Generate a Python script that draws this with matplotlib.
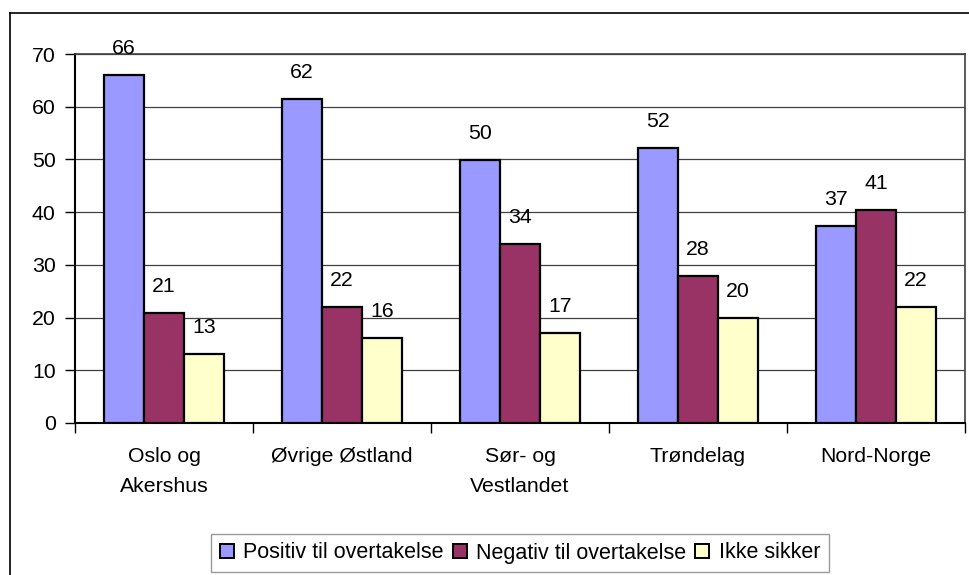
import matplotlib
matplotlib.use("Agg")
import matplotlib.pyplot as plt
from matplotlib.lines import Line2D
import numpy as np

plt.rcParams['font.family'] = ['Liberation Sans', 'DejaVu Sans']

categories = ["Oslo og\nAkershus", "Øvrige Østland", "Sør- og\nVestlandet", "Trøndelag", "Nord-Norge"]
series_names = ["Positiv til overtakelse", "Negativ til overtakelse", "Ikke sikker"]
positiv = [66.1, 61.5, 49.9, 52.1, 37.4]
negativ = [20.8, 22.0, 33.9, 27.8, 40.5]
ikke_sikker = [13.0, 16.2, 17.0, 20.0, 22.0]
labels_positiv = ["66", "62", "50", "52", "37"]
labels_negativ = ["21", "22", "34", "28", "41"]
labels_ikke = ["13", "16", "17", "20", "22"]
y_ticks = [0, 10, 20, 30, 40, 50, 60, 70]

colors = ["#9999FF", "#993366", "#FFFFCC"]
FS = 15.3

W, H = 970, 575
fig = plt.figure(figsize=(W / 100, H / 100), dpi=100)
left, right, top, bottom = 75, 965, 54, 423
ax = fig.add_axes([left / W, 1 - bottom / H, (right - left) / W, (bottom - top) / H])

x = np.arange(len(categories))
bw = 0.224
series = [positiv, negativ, ikke_sikker]
labs = [labels_positiv, labels_negativ, labels_ikke]
for i, (vals, lab) in enumerate(zip(series, labs)):
    pos = x + (i - 1) * bw
    ax.bar(pos, vals, width=bw, color=colors[i], edgecolor="black",
           linewidth=1.6, label=series_names[i], zorder=3)
    for xp, v, t in zip(pos, vals, lab):
        ax.annotate(t, (xp, v), xytext=(0, 21), textcoords="offset pixels",
                    ha="center", va="baseline", fontsize=FS, zorder=4)

ax.set_xlim(-0.5, len(categories) - 0.5)
ax.set_ylim(0, 70)
ax.set_yticks(y_ticks)
ax.set_yticklabels([str(t) for t in y_ticks], fontsize=FS)
ax.yaxis.grid(True, color="#404040", linewidth=0.9, zorder=0)
ax.set_axisbelow(True)

ax.set_xticks(x)
ax.set_xticklabels(categories, fontsize=FS, linespacing=1.75)
ax.set_xticks(np.arange(-0.5, len(categories)), minor=True)
ax.tick_params(axis="x", which="major", length=0, pad=17)
ax.tick_params(axis="x", which="minor", length=7, width=1, color="black", direction="out")
ax.tick_params(axis="y", length=7, width=1, color="black", direction="out", pad=7)

for s in ["left", "bottom"]:
    ax.spines[s].set_color("black")
    ax.spines[s].set_linewidth(1.5)
for s in ["top", "right"]:
    ax.spines[s].set_color("#404040")
    ax.spines[s].set_linewidth(1.2)

# outer chart frame
fig.add_artist(Line2D([10 / W, 10 / W], [1 - 13 / H, 0], transform=fig.transFigure,
                      color="black", linewidth=1.2))
fig.add_artist(Line2D([10 / W, 1], [1 - 13 / H, 1 - 13 / H], transform=fig.transFigure,
                      color="black", linewidth=1.2))

leg = fig.legend(loc="center", bbox_to_anchor=(520 / W, 1 - 553 / H), ncol=3,
                 fontsize=15.5, frameon=True, fancybox=False, edgecolor="#808080",
                 handlelength=0.65, handleheight=0.65, handletextpad=0.45,
                 columnspacing=0.4, borderpad=0.4, borderaxespad=0)
leg.get_frame().set_linewidth(1.0)
for h in leg.legend_handles:
    h.set_linewidth(1.4)

fig.savefig("out.png", dpi=100)
